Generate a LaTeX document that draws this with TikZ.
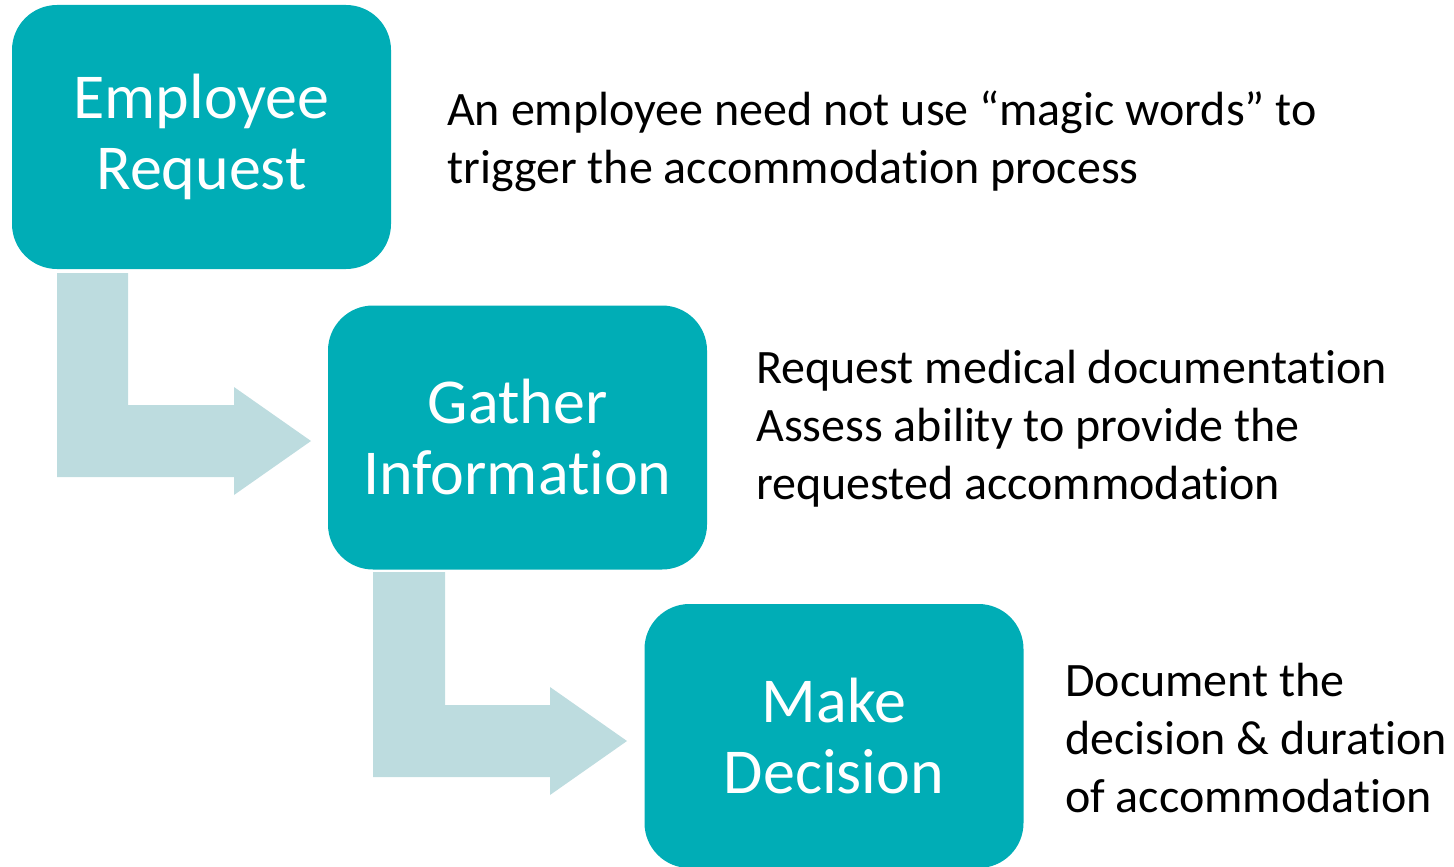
\documentclass[tikz,border=0pt]{standalone}
\usepackage{fontspec}
\setmainfont{Carlito}[RawFeature={-liga;-clig;-dlig}]
\definecolor{stepteal}{HTML}{00ADB6}
\definecolor{paleteal}{HTML}{BDDCDF}
\begin{document}
\begin{tikzpicture}[x=1pt,y=-1pt,
  stepbox/.style={fill=stepteal, rounded corners=45pt, minimum width=379pt,
    minimum height=264pt, inner sep=0pt, text=white, align=center,
    font=\fontsize{64}{71}\selectfont},
  note/.style={anchor=base west, inner sep=0pt, align=left, text=black,
    font=\fontsize{48}{58}\selectfont},
  elbowarrow/.style={fill=paleteal, draw=none}]
\useasboundingbox (0,0) rectangle (1454,867);

% process steps
\node[stepbox] (req) at (201.5,137) {Employee\\Request};
\node[stepbox] (info) at (517.5,437.5) {Gather\\Information};
\node[stepbox] (dec) at (834,736) {Make\\Decision};

% bent arrows between the steps
\fill[elbowarrow] (57,273) -- (128,273) -- (128,405) -- (234,405) -- (234,387)
  -- (311,441) -- (234,495) -- (234,477) -- (57,477) -- cycle;
\fill[elbowarrow] (373,572) -- (445,572) -- (445,705) -- (550,705) -- (550,687)
  -- (627,741) -- (550,795) -- (550,777) -- (373,777) -- cycle;

% descriptions (anchored at the baseline of their last line)
\node[note] (n1) at (447,183) {An employee need not use “magic words” to\\trigger the accommodation process};
\node[note] (n2) at (756,499) {Request medical documentation\\Assess ability to provide the\\requested accommodation};
\node[note] (n3) at (1065,812) {Document the\\decision \& duration\\of accommodation};
\end{tikzpicture}
\end{document}
